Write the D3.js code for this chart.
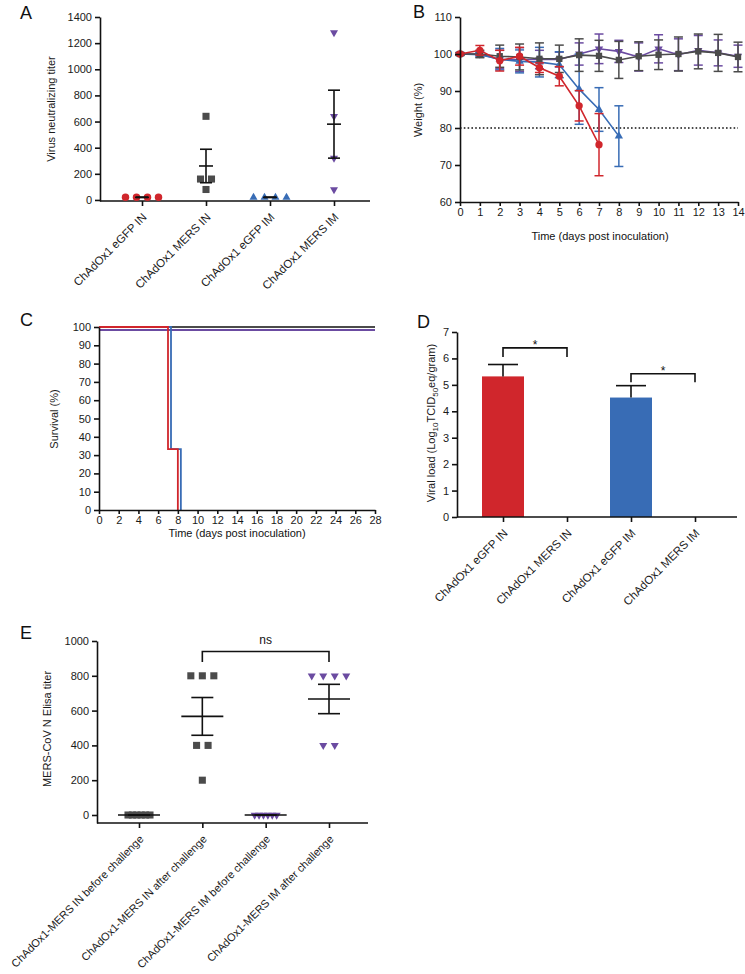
<!DOCTYPE html>
<html lang="en">
<head>
<meta charset="utf-8">
<script src="https://d3js.org/d3.v7.min.js"></script>
<style>
  body { margin: 0; background: #fff; }
  svg { display: block; font-family: "Liberation Sans", Arial, Helvetica, sans-serif; }
  .axis path, .axis line { stroke: #111; stroke-width: 1.6; }
  .axis text { font-size: 11px; fill: #1a1a1a; font-family: "Liberation Sans", Arial, sans-serif; }
</style>
</head>
<body>
<svg width="745" height="974"></svg>
<script>
// ---------- data ----------
// A: virus neutralizing titers
const catsA = ["ChAdOx1 eGFP IN", "ChAdOx1 MERS IN", "ChAdOx1 eGFP IM", "ChAdOx1 MERS IM"];
const vntEgfpIN = [20, 20, 20, 20];
const vntMersIN = [640, 160, 160, 80];
const vntEgfpIM = [20, 20, 20, 20];
const vntMersIM = [1280, 640, 320, 80];
const ticksA = [0, 200, 400, 600, 800, 1000, 1200, 1400];

// B: weight (%) mean and error per day
const daysB = [0, 1, 2, 3, 4, 5, 6, 7, 8, 9, 10, 11, 12, 13, 14];
const wtEgfpIN = [100, 101, 98.2, 99.4, 96.3, 94, 86, 75.5];
const errEgfpIN = [0.3, 1.3, 2.8, 2.4, 1.3, 2.6, 4.1, 8.4];
const wtEgfpIM = [100, 99.8, 98.6, 98, 97.8, 97.1, 90.5, 85, 77.8];
const errEgfpIM = [0.3, 0.6, 2.9, 3.1, 4, 3.5, 9.5, 5.9, 8.2];
const wtMersIN = [100, 100, 99.4, 99.2, 98.7, 98.7, 99.7, 99.5, 98.4, 99.4, 99.8, 100, 100.7, 100.3, 99.2];
const errMersIN = [0.4, 1, 3, 3.5, 4.3, 3.7, 4.4, 4.2, 5, 3.9, 4, 4.6, 4.7, 5, 4];
const wtMersIM = [100, 100, 98.5, 98.5, 98.5, 98.5, 100, 101.4, 100.7, 99.2, 101.4, 99.8, 101, 100.3, 99.4];
const errMersIM = [0.3, 0.5, 2.5, 3.2, 2.5, 2, 3, 4, 3, 3.8, 3.8, 4.3, 4, 3.5, 3];
const ticksWeight = [60, 70, 80, 90, 100, 110];
const thresholdB = 80;

// C: survival (%)
const survTimesEgfp = [0, 7, 8];
const survEgfpIN = [100, 33.3, 0];
const survEgfpIM = [100, 33.3, 0];
const survTimesMers = [0, 28];
const survMersIN = [100, 100];
const survMersIM = [100, 100];
const ticksDaysC = [0, 2, 4, 6, 8, 10, 12, 14, 16, 18, 20, 22, 24, 26, 28];
const ticksSurv = [0, 10, 20, 30, 40, 50, 60, 70, 80, 90, 100];

// D: viral load
const loadMean = [5.32, 0, 4.52, 0];
const loadSem = [0.45, 0, 0.45, 0];
const ticksLoad = [0, 1, 2, 3, 4, 5, 6, 7];
const bracketsD = [
  { from: 0, to: 1, level: 6.4, foot: 6.05, label: "*" },
  { from: 2, to: 3, level: 5.42, foot: 5.1, label: "*" }
];

// E: ELISA titers
const catsE = ["ChAdOx1-MERS IN before challenge", "ChAdOx1-MERS IN after challenge",
               "ChAdOx1-MERS IM before challenge", "ChAdOx1-MERS IM after challenge"];
const elisaInBefore = [0, 0, 0, 0, 0, 0];
const elisaInAfter = [800, 800, 800, 400, 400, 200];
const elisaImBefore = [0, 0, 0, 0, 0, 0];
const elisaImAfter = [800, 800, 800, 800, 400, 400];
const ticksE = [0, 200, 400, 600, 800, 1000];
const bracketE = { from: 1, to: 3, level: 940, foot: 880, label: "ns" };

// ---------- drawing ----------
const RED = "#d0262c", BLUE = "#386cb5", PURPLE = "#6b4ba1", GREY = "#4b4b4b", INK = "#111";
const svg = d3.select("svg");
svg.append("rect").attr("width", 745).attr("height", 974).attr("fill", "#fff");

function mark(type, color, cx, cy, size) {
  const sym = { circle: d3.symbolCircle, square: d3.symbolSquare, tri: d3.symbolTriangle, itri: d3.symbolTriangle }[type];
  svg.append("path")
    .attr("d", d3.symbol().type(sym).size(size)())
    .attr("transform", "translate(" + cx + "," + cy + ")" + (type == "itri" ? " rotate(180)" : ""))
    .attr("fill", color);
}

function seg(x1, y1, x2, y2, color, w) {
  return svg.append("line").attr("x1", x1).attr("y1", y1).attr("x2", x2).attr("y2", y2)
    .attr("stroke", color || INK).attr("stroke-width", w || 1.6);
}

function yAxisLeft(scale, ticks, x) {
  return svg.append("g").attr("class", "axis").attr("transform", "translate(" + x + ",0)")
    .call(d3.axisLeft(scale).tickValues(ticks).tickSize(5).tickSizeOuter(0).tickPadding(3).tickFormat(d3.format("d")));
}

function xAxisNum(scale, ticks, y) {
  return svg.append("g").attr("class", "axis").attr("transform", "translate(0," + y + ")")
    .call(d3.axisBottom(scale).tickValues(ticks).tickSize(4).tickSizeOuter(0).tickPadding(2));
}

// category axis with labels slanted at 45 degrees
function xAxisCat(scale, y, x0, x1, fs) {
  seg(x0, y, x1, y);
  const g = svg.append("g").attr("class", "axis").attr("transform", "translate(0," + y + ")")
    .call(d3.axisBottom(scale).tickSize(5).tickSizeOuter(0));
  g.select(".domain").remove();
  g.selectAll(".tick text").attr("x", 0).attr("y", 0).attr("dy", "0.35em")
    .style("font-size", fs + "px")
    .attr("transform", "translate(2,14) rotate(-45)").style("text-anchor", "end");
}

function yTitle(cx, cy) {
  return svg.append("text").attr("transform", "translate(" + cx + "," + cy + ") rotate(-90)")
    .attr("text-anchor", "middle").attr("dy", "0.35em").attr("font-size", 11).attr("fill", "#1a1a1a");
}

function label(txt, x, y, size, anchor) {
  return svg.append("text").attr("x", x).attr("y", y).attr("font-size", size)
    .attr("text-anchor", anchor || "start").attr("fill", "#111").text(txt);
}

// scatter with mean +/- SEM
function dotGroup(x, y, cat, vals, type, color, size, opt) {
  const cx = x(cat);
  const groups = d3.group(vals, v => v);
  groups.forEach((arr, v) => {
    const n = arr.length, s = n > 4 ? opt.tight : opt.loose;
    arr.forEach((_, i) => mark(type, color, cx + (i - (n - 1) / 2) * s, y(v), size));
  });
  const m = d3.mean(vals), sem = d3.deviation(vals) / Math.sqrt(vals.length);
  seg(cx - opt.meanHalf, y(m), cx + opt.meanHalf, y(m));
  seg(cx, y(m - sem), cx, y(m + sem));
  seg(cx - opt.capHalf, y(m + sem), cx + opt.capHalf, y(m + sem));
  seg(cx - opt.capHalf, y(m - sem), cx + opt.capHalf, y(m - sem));
}

function bracket(x, y, b, h) {
  const cats = x.domain();
  const x1 = x(cats[b.from]), x2 = x(cats[b.to]);
  svg.append("path")
    .attr("d", "M" + x1 + "," + y(b.foot) + "V" + y(b.level) + "H" + x2 + "V" + y(b.foot))
    .attr("fill", "none").attr("stroke", INK).attr("stroke-width", 1.6);
  label(b.label, (x1 + x2) / 2, y(b.level) + h, 12, "middle");
}

// ---- Panel A ----
{
  const x = d3.scalePoint().domain(catsA).range([142, 334]);
  const y = d3.scaleLinear().domain([-8, 1400]).range([201, 17]);
  yAxisLeft(y, ticksA, 100);
  xAxisCat(x, 201, 100, 370, 11.5);
  const opt = { loose: 11, tight: 4.4, meanHalf: 7, capHalf: 6 };
  dotGroup(x, y, catsA[0], vntEgfpIN, "circle", RED, 44, opt);
  dotGroup(x, y, catsA[1], vntMersIN, "square", GREY, 50, opt);
  dotGroup(x, y, catsA[2], vntEgfpIM, "tri", BLUE, 28, opt);
  dotGroup(x, y, catsA[3], vntMersIM, "itri", PURPLE, 28, opt);
  yTitle(51, 109).text("Virus neutralizing titer");
  label("A", 20, 19, 18);
}

// ---- Panel B ----
{
  const x = d3.scaleLinear().domain([0, 14]).range([460, 738]);
  const y = d3.scaleLinear().domain([60, 110]).range([202, 17]);
  svg.append("line").attr("x1", x(0)).attr("x2", x(14)).attr("y1", y(thresholdB)).attr("y2", y(thresholdB))
    .attr("stroke", INK).attr("stroke-width", 1.6).attr("stroke-dasharray", "1.6,2.2");
  const series = [
    { w: wtMersIM, e: errMersIM, c: PURPLE, t: "itri", s: 30 },
    { w: wtEgfpIM, e: errEgfpIM, c: BLUE, t: "tri", s: 30 },
    { w: wtMersIN, e: errMersIN, c: GREY, t: "square", s: 40 },
    { w: wtEgfpIN, e: errEgfpIN, c: RED, t: "circle", s: 42 }
  ];
  series.forEach(sr => {
    sr.w.forEach((v, i) => {
      const cx = x(daysB[i]);
      seg(cx, y(v - sr.e[i]), cx, y(v + sr.e[i]), sr.c, 1.5);
      seg(cx - 4.5, y(v - sr.e[i]), cx + 4.5, y(v - sr.e[i]), sr.c, 1.5);
      seg(cx - 4.5, y(v + sr.e[i]), cx + 4.5, y(v + sr.e[i]), sr.c, 1.5);
    });
    svg.append("path").datum(sr.w)
      .attr("d", d3.line().x((d, i) => x(daysB[i])).y(d => y(d)))
      .attr("fill", "none").attr("stroke", sr.c).attr("stroke-width", 1.6);
    sr.w.forEach((v, i) => mark(sr.t, sr.c, x(daysB[i]), y(v), sr.s));
  });
  yAxisLeft(y, ticksWeight, 460);
  xAxisNum(x, daysB, 202);
  yTitle(418, 110).text("Weight (%)");
  label("Time (days post inoculation)", 600, 240, 11, "middle");
  label("B", 413, 18, 18);
}

// ---- Panel C ----
{
  const x = d3.scaleLinear().domain([0, 28]).range([99, 375]);
  const y = d3.scaleLinear().domain([0, 100]).range([510, 327]);
  const step = d3.line().curve(d3.curveStepAfter);
  const lines = [
    { t: survTimesMers, v: survMersIN, c: GREY, dx: 0, dy: 0 },
    { t: survTimesMers, v: survMersIM, c: PURPLE, dx: 0, dy: 3 },
    { t: survTimesEgfp, v: survEgfpIM, c: BLUE, dx: 3, dy: 0 },
    { t: survTimesEgfp, v: survEgfpIN, c: RED, dx: 0, dy: 0 }
  ];
  lines.forEach(l => {
    svg.append("path")
      .attr("d", step(l.t.map((d, i) => [x(d) + l.dx, y(l.v[i]) + l.dy])))
      .attr("fill", "none").attr("stroke", l.c).attr("stroke-width", 1.8);
  });
  yAxisLeft(y, ticksSurv, 99);
  xAxisNum(x, ticksDaysC, 510);
  yTitle(54, 419).text("Survival (%)");
  label("Time (days post inoculation)", 237, 537, 11, "middle");
  label("C", 20, 326, 18);
}

// ---- Panel D ----
{
  const x = d3.scalePoint().domain(catsA).range([503, 695]);
  const y = d3.scaleLinear().domain([0, 7]).range([517, 332]);
  const colors = [RED, RED, BLUE, BLUE];
  const bw = 42;
  catsA.forEach((c, i) => {
    if (loadMean[i] <= 0) return;
    const cx = x(c);
    svg.append("rect").attr("x", cx - bw / 2).attr("y", y(loadMean[i]))
      .attr("width", bw).attr("height", y(0) - y(loadMean[i])).attr("fill", colors[i]);
    seg(cx, y(loadMean[i]), cx, y(loadMean[i] + loadSem[i]));
    seg(cx - 15, y(loadMean[i] + loadSem[i]), cx + 15, y(loadMean[i] + loadSem[i]));
  });
  yAxisLeft(y, ticksLoad, 457);
  xAxisCat(x, 517, 457, 737, 11.5);
  bracketsD.forEach(b => bracket(x, y, b, 1));
  const t = yTitle(431, 423);
  t.append("tspan").text("Viral load (Log");
  t.append("tspan").attr("dy", 3).attr("font-size", 8).text("10");
  t.append("tspan").attr("dy", -3).text("TCID");
  t.append("tspan").attr("dy", 3).attr("font-size", 8).text("50");
  t.append("tspan").attr("dy", -3).text("eq/gram)");
  label("D", 417, 328, 18);
}

// ---- Panel E ----
{
  const x = d3.scalePoint().domain(catsE).range([139, 329]);
  const y = d3.scaleLinear().domain([-46, 1000]).range([823, 641]);
  yAxisLeft(y, ticksE, 97);
  xAxisCat(x, 823, 97, 368, 11);
  const opt = { loose: 11.5, tight: 4.4, meanHalf: 21, capHalf: 11 };
  dotGroup(x, y, catsE[0], elisaInBefore, "square", GREY, 50, opt);
  dotGroup(x, y, catsE[1], elisaInAfter, "square", GREY, 50, opt);
  dotGroup(x, y, catsE[2], elisaImBefore, "itri", PURPLE, 28, opt);
  dotGroup(x, y, catsE[3], elisaImAfter, "itri", PURPLE, 28, opt);
  bracket(x, y, bracketE, -7);
  yTitle(47, 729).text("MERS-CoV N Elisa titer");
  label("E", 20, 639, 18);
}
</script>
</body>
</html>
